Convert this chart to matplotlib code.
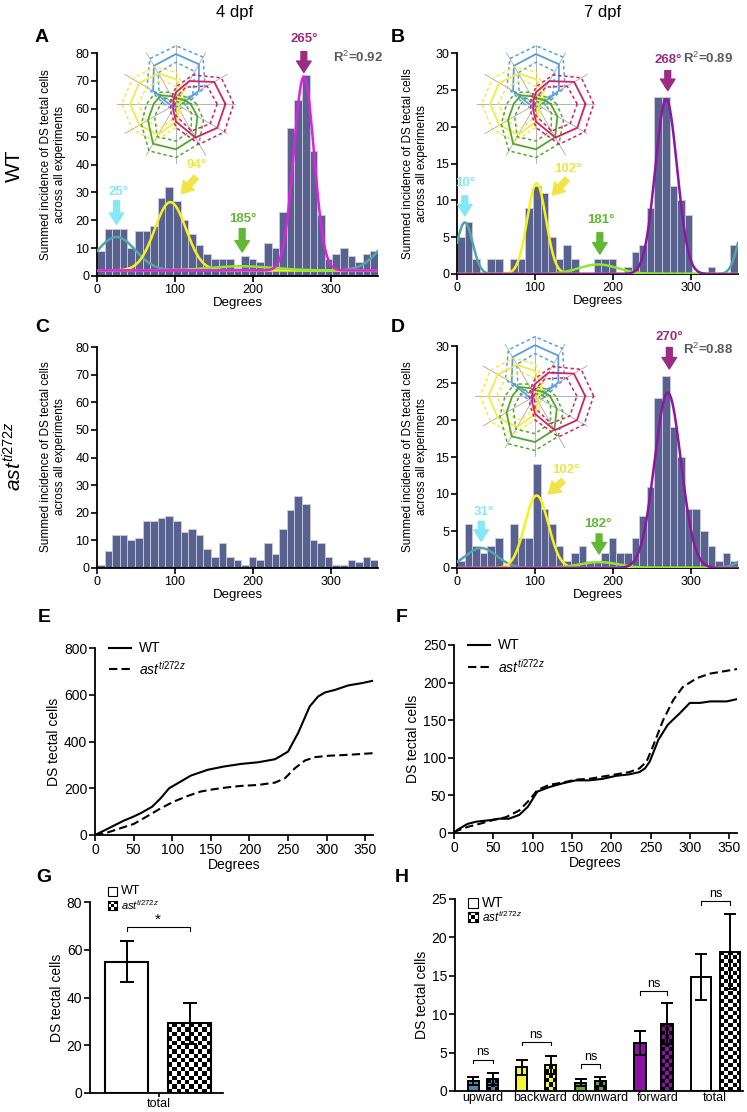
import numpy as np
import matplotlib
matplotlib.use('Agg')
import matplotlib.pyplot as plt
import matplotlib.colors as mcolors
from matplotlib.lines import Line2D
from matplotlib.patches import Rectangle

plt.rcParams['font.family'] = ['Liberation Sans', 'DejaVu Sans']
plt.rcParams['mathtext.fontset'] = 'custom'
plt.rcParams['mathtext.it'] = 'Liberation Sans:italic'
plt.rcParams['mathtext.rm'] = 'Liberation Sans'

# ---------------- DATA ----------------
n_bins = 37
hist_A = [9, 17, 17, 17, 10, 16, 16, 18, 28, 32, 27, 20, 15, 11, 8, 6, 6, 6, 3,
          7, 6, 5, 12, 10, 23, 53, 63, 72, 45, 22, 6, 8, 10, 7, 5, 8, 9]
hist_B = [5, 7, 2, 0, 2, 2, 0, 2, 2, 9, 12, 11, 5, 2, 4, 2, 0, 0, 2,
          2, 2, 0, 1, 3, 4, 9, 24, 24, 12, 10, 8, 0, 0, 1, 0, 0, 4]
hist_C = [1, 6, 12, 12, 10, 11, 17, 17, 18, 19, 17, 13, 14, 12, 7, 4, 9, 4, 3,
          1, 4, 3, 9, 5, 14, 21, 26, 23, 10, 9, 4, 1, 1, 3, 2, 4, 3]
hist_D = [1, 6, 3, 2, 3, 4, 0, 6, 4, 4, 14, 8, 6, 3, 1, 2, 3, 1, 1,
          2, 4, 2, 2, 4, 7, 11, 23, 26, 19, 15, 8, 8, 5, 3, 1, 2, 1]

# Gaussian fits: upward(teal), backward(yellow), downward(green), forward
fit_A_centers = [25, 94, 185, 265]
fit_A_amps = [12, 24.5, 1.5, 69.5]
fit_A_sigmas = [24, 20, 40, 13]
fit_A_base = 2
fit_A_r2 = "0.92"
fit_B_centers = [10, 102, 181, 268]
fit_B_amps = [7, 12.3, 1.3, 23.7]
fit_B_sigmas = [10, 12, 25, 14]
fit_B_base = 0
fit_B_r2 = "0.89"
fit_D_centers = [31, 102, 182, 270]
fit_D_amps = [2.7, 9.8, 0.8, 23.7]
fit_D_sigmas = [20, 15, 25, 17]
fit_D_base = 0
fit_D_r2 = "0.88"

# polar tuning insets (12 directions)
dir_angles = [0, 30, 60, 90, 120, 150, 180, 210, 240, 270, 300, 330]
up_mean = [0.10, 0.45, 0.78, 0.85, 0.75, 0.45, 0.12, 0.06, 0.05, 0.05, 0.05, 0.06]
up_sem = [0.08, 0.12, 0.14, 0.14, 0.14, 0.12, 0.08, 0.06, 0.05, 0.05, 0.05, 0.06]
back_mean = [0.05, 0.08, 0.20, 0.42, 0.60, 0.72, 0.78, 0.72, 0.60, 0.30, 0.10, 0.05]
back_sem = [0.05, 0.06, 0.10, 0.12, 0.13, 0.14, 0.14, 0.14, 0.13, 0.10, 0.07, 0.05]
down_mean = [0.25, 0.15, 0.10, 0.10, 0.15, 0.30, 0.38, 0.55, 0.78, 0.77, 0.65, 0.42]
down_sem = [0.10, 0.08, 0.06, 0.06, 0.08, 0.10, 0.12, 0.13, 0.14, 0.14, 0.13, 0.12]
fwd_mean = [0.84, 0.75, 0.45, 0.20, 0.08, 0.05, 0.05, 0.05, 0.10, 0.30, 0.66, 0.81]
fwd_sem = [0.14, 0.14, 0.12, 0.09, 0.06, 0.05, 0.05, 0.05, 0.07, 0.10, 0.13, 0.14]

# cumulative curves
E_wt_deg = [0, 13, 37, 48, 59, 74, 85, 96, 107, 124, 146, 167, 189, 211, 233, 241, 250,
            263, 278, 289, 298, 311, 328, 346, 360]
E_wt_val = [0, 21, 61, 76, 93, 121, 157, 200, 221, 254, 279, 293, 304, 311, 324, 339, 357,
            436, 550, 593, 610, 621, 640, 650, 660]
E_ast_deg = [0, 13, 33, 50, 67, 85, 102, 120, 137, 154, 172, 189, 211, 233, 246, 259, 272,
             285, 302, 328, 360]
E_ast_val = [0, 7, 29, 47, 79, 114, 143, 167, 186, 196, 204, 210, 214, 224, 243, 286, 319,
             333, 339, 343, 350]
F_wt_deg = [0, 4, 17, 28, 45, 57, 70, 83, 94, 106, 121, 138, 155, 172, 189, 206, 223, 236,
            243, 249, 260, 272, 287, 300, 313, 326, 347, 360]
F_wt_val = [0, 4, 12, 15, 17, 19, 19, 24, 35, 55, 61, 66, 70, 70, 72, 76, 78, 81,
            86, 95, 124, 144, 159, 173, 173, 175, 175, 178]
F_ast_deg = [0, 4, 17, 32, 49, 66, 83, 96, 106, 121, 138, 155, 172, 189, 206, 223, 236,
             245, 253, 266, 279, 291, 309, 326, 343, 360]
F_ast_val = [0, 3, 8, 12, 17, 21, 30, 44, 57, 64, 67, 71, 72, 75, 78, 81, 86,
             95, 115, 150, 177, 194, 206, 212, 215, 218]

# bar charts
G_groups = ['total']
G_wt_mean = [55.0]
G_wt_err = [8.7]
G_ast_mean = [29.3]
G_ast_err = [8.6]
H_groups = ['upward', 'backward', 'downward', 'forward', 'total']
H_wt_mean = [1.3, 3.1, 1.1, 6.25, 14.85]
H_wt_err = [0.5, 1.0, 0.42, 1.6, 2.95]
H_ast_mean = [1.55, 3.35, 1.25, 8.75, 18.15]
H_ast_err = [0.8, 1.2, 0.55, 2.65, 4.85]
H_sig = ['ns', 'ns', 'ns', 'ns', 'ns']

# ---------------- STYLE ----------------
W, H = 747, 1112
fig = plt.figure(figsize=(W / 100, H / 100), dpi=100)

BAR_C = '#59628f'
BAR_EDGE = '#c9cce0'
C_TEAL = '#52a6a6'
C_YEL = '#f7f21a'
C_GRN = '#8ee82a'
C_MAG_A = '#e020e0'
C_PUR = '#8f169f'
L_CYAN = '#86e8f4'
L_YEL = '#efe545'
L_GRN = '#62b833'
L_MAG = '#9a2d82'
POL_BLUE = '#5a9ee0'
POL_YEL = '#f5eb3c'
POL_GRN = '#52a82a'
POL_MAG = '#cf2268'
H_COLORS = ['#4a87a9', '#f5f53a', '#5aaa28', '#8a12a0', 'white']


def px_axes(l, t, r, b, **kw):
    return fig.add_axes([l / W, 1 - b / H, (r - l) / W, (b - t) / H], **kw)


def ftext(x, y, s, **kw):
    return fig.text(x / W, 1 - y / H, s, **kw)


def fline(x0, x1, y, **kw):
    fig.add_artist(Line2D([x0 / W, x1 / W], [1 - y / H, 1 - y / H],
                          transform=fig.transFigure, **kw))


def style_axes(ax, lab=9):
    for s in ['top', 'right']:
        ax.spines[s].set_visible(False)
    for s in ['left', 'bottom']:
        ax.spines[s].set_linewidth(1.3)
    ax.tick_params(direction='out', length=4, width=1.2, labelsize=lab, pad=1.5)


def circ_gauss(x, c, a, s, base):
    d = (x - c + 180) % 360 - 180
    return base + a * np.exp(-d ** 2 / (2 * s ** 2))


def polar_inset(cx, cy, r):
    ia = px_axes(cx - r, cy - r, cx + r, cy + r)
    ia.set_xlim(-1.02, 1.02)
    ia.set_ylim(-1.02, 1.02)
    ia.axis('off')
    th = np.deg2rad(dir_angles)
    for t in th:
        ia.plot([0, np.cos(t)], [0, np.sin(t)], color='#a8a8a8', lw=0.6, zorder=1)
    for mean, sem, col in [(up_mean, up_sem, POL_BLUE), (back_mean, back_sem, POL_YEL),
                           (down_mean, down_sem, POL_GRN), (fwd_mean, fwd_sem, POL_MAG)]:
        m = np.array(mean)
        s = np.array(sem)
        for rr, ls, lw in [(m, '-', 1.3), (np.clip(m - s, 0.02, None), (0, (2.2, 1.8)), 1.1),
                           (m + s, (0, (2.2, 1.8)), 1.1)]:
            xx = np.append(rr * np.cos(th), rr[0] * np.cos(th[0]))
            yy = np.append(rr * np.sin(th), rr[0] * np.sin(th[0]))
            ia.plot(xx, yy, color=col, lw=lw, ls=ls, zorder=2)


def arrow(ax, x0, y0, x1, y1, color):
    ax.annotate('', xy=(x1, y1), xytext=(x0, y0),
                arrowprops=dict(arrowstyle='simple,head_width=0.95,head_length=0.75,tail_width=0.38',
                                color=color, mutation_scale=11, shrinkA=0, shrinkB=0),
                annotation_clip=False)


def deg_label(ax, x, y, s, color):
    ax.text(x, y, s, color=color, fontsize=9.5, fontweight='bold', ha='center', va='center')


def hist_panel(box, counts, ymax, ystep):
    ax = px_axes(*box)
    w = 360.0 / n_bins
    edges = np.arange(n_bins) * w
    ax.bar(edges, counts, width=w, align='edge', color=BAR_C,
           edgecolor=BAR_EDGE, linewidth=0.6, zorder=1)
    ax.set_xlim(0, 360)
    ax.set_ylim(0, ymax)
    ax.set_xticks([0, 100, 200, 300])
    ax.set_yticks(np.arange(0, ymax + 0.1, ystep))
    style_axes(ax, 9)
    ax.set_xlabel('Degrees', fontsize=9.5, labelpad=1)
    return ax


def add_fits(ax, centers, amps, sigmas, base, last_col):
    x = np.linspace(0, 360, 1441)
    cols = [C_TEAL, C_YEL, C_GRN, last_col]
    for c, a, s, col in zip(centers, amps, sigmas, cols):
        ax.plot(x, circ_gauss(x, c, a, s, base), color=col, lw=1.8, zorder=3)


def checker_fill(ax, x0, w, h, color, cell=4.3):
    p0 = ax.transData.transform((x0, 0))
    p1 = ax.transData.transform((x0 + w, h))
    nx = max(1, int(round(abs(p1[0] - p0[0]) / cell)))
    ny = max(1, int(round(abs(p1[1] - p0[1]) / cell)))
    ii, jj = np.indices((ny, nx))
    rgba = np.zeros((ny, nx, 4))
    rgba[:] = mcolors.to_rgba(color)
    rgba[(ii + jj) % 2 == 0] = (0, 0, 0, 1)
    ax.imshow(rgba, extent=(x0, x0 + w, 0, h), origin='lower', interpolation='nearest',
              aspect='auto', zorder=2)


def checker_icon(l, t, size):
    ia = px_axes(l, t, l + size, t + size)
    ii, jj = np.indices((3, 3))
    img = np.where((ii + jj) % 2 == 0, 0.0, 1.0)
    ia.imshow(img, cmap='gray', vmin=0, vmax=1, interpolation='nearest', aspect='auto')
    ia.set_xticks([])
    ia.set_yticks([])
    for s in ia.spines.values():
        s.set_linewidth(0.8)


def white_icon(l, t, size):
    fig.add_artist(Rectangle((l / W, 1 - (t + size) / H), size / W, size / H,
                             transform=fig.transFigure, facecolor='white',
                             edgecolor='black', lw=0.8))


AST = r'$ast^{ti272z}$'

# ---------------- headers ----------------
ftext(235, 13, '4 dpf', fontsize=12, ha='center', va='center')
ftext(603, 13, '7 dpf', fontsize=12, ha='center', va='center')
ftext(14, 166, 'WT', fontsize=15, rotation=90, ha='center', va='center')
ftext(14, 456, AST, fontsize=15, rotation=90, ha='center', va='center')
for lab, x, y in [('A', 42, 38), ('B', 398, 38), ('C', 42, 328), ('D', 398, 328),
                  ('E', 44, 618), ('F', 402, 618), ('G', 44, 878), ('H', 402, 878)]:
    ftext(x, y, lab, fontsize=14, fontweight='bold', ha='center', va='center')

YL = 'Summed incidence of DS tectal cells\nacross all experiments'

# ---------------- A ----------------
axA = hist_panel((97, 53, 378, 276), hist_A, 80, 10)
add_fits(axA, fit_A_centers, fit_A_amps, fit_A_sigmas, fit_A_base, C_MAG_A)
ftext(53, 165, YL, fontsize=8.5, rotation=90, ha='center', va='center', multialignment='center')
deg_label(axA, 27, 30, '25°', L_CYAN)
arrow(axA, 25, 27, 25, 18.5, L_CYAN)
deg_label(axA, 128, 40, '94°', L_YEL)
arrow(axA, 127, 35.5, 108, 29.5, L_YEL)
deg_label(axA, 187, 20.5, '185°', L_GRN)
arrow(axA, 186, 17, 186, 8.6, L_GRN)
deg_label(axA, 265, 85, '265°', L_MAG)
arrow(axA, 265, 80.5, 265, 73, L_MAG)
axA.text(335, 78.5, r'R$^2$=' + fit_A_r2, color='#5a5a5a', fontsize=9.5, fontweight='bold',
         ha='center', va='center')
polar_inset(176, 104, 60)

# ---------------- B ----------------
axB = hist_panel((457, 53, 738, 274), hist_B, 30, 5)
add_fits(axB, fit_B_centers, fit_B_amps, fit_B_sigmas, fit_B_base, C_PUR)
ftext(415, 164, YL, fontsize=8.5, rotation=90, ha='center', va='center', multialignment='center')
deg_label(axB, 10, 12.3, '10°', L_CYAN)
arrow(axB, 10, 10.6, 10, 7.9, L_CYAN)
deg_label(axB, 142, 14.3, '102°', L_YEL)
arrow(axB, 141, 12.9, 122, 10.7, L_YEL)
deg_label(axB, 184, 7.3, '181°', L_GRN)
arrow(axB, 183, 5.6, 183, 2.7, L_GRN)
deg_label(axB, 270, 29.0, '268°', L_MAG)
arrow(axB, 270, 27.6, 270, 24.9, L_MAG)
axB.text(322, 29.2, r'R$^2$=' + fit_B_r2, color='#5a5a5a', fontsize=9.5, fontweight='bold',
         ha='center', va='center')
polar_inset(536, 104, 60)

# ---------------- C ----------------
axC = hist_panel((97, 347, 378, 568), hist_C, 80, 10)
ftext(53, 457, YL, fontsize=8.5, rotation=90, ha='center', va='center', multialignment='center')

# ---------------- D ----------------
axD = hist_panel((457, 346, 738, 568), hist_D, 30, 5)
add_fits(axD, fit_D_centers, fit_D_amps, fit_D_sigmas, fit_D_base, C_PUR)
ftext(415, 457, YL, fontsize=8.5, rotation=90, ha='center', va='center', multialignment='center')
deg_label(axD, 34, 7.6, '31°', L_CYAN)
arrow(axD, 31, 6.3, 31, 3.6, L_CYAN)
deg_label(axD, 139, 13.3, '102°', L_YEL)
arrow(axD, 136, 11.8, 117, 10.0, L_YEL)
deg_label(axD, 181, 6.0, '182°', L_GRN)
arrow(axD, 182, 4.6, 182, 1.9, L_GRN)
deg_label(axD, 272, 31.2, '270°', L_MAG)
arrow(axD, 272, 29.8, 272, 26.9, L_MAG)
axD.text(322, 29.5, r'R$^2$=' + fit_D_r2, color='#5a5a5a', fontsize=9.5, fontweight='bold',
         ha='center', va='center')
polar_inset(535, 396, 61)

# ---------------- E ----------------
axE = px_axes(95, 648, 373, 835)
axE.plot(E_wt_deg, E_wt_val, color='black', lw=1.5)
axE.plot(E_ast_deg, E_ast_val, color='black', lw=1.5, ls=(0, (4, 2)))
axE.set_xlim(0, 360)
axE.set_ylim(0, 800)
axE.set_xticks(np.arange(0, 351, 50))
axE.set_yticks(np.arange(0, 801, 200))
style_axes(axE, 10)
axE.set_xlabel('Degrees', fontsize=10, labelpad=1)
axE.set_ylabel('DS tectal cells', fontsize=10, labelpad=2)
fline(109, 131, 648, color='black', lw=1.5)
ftext(139, 648, 'WT', fontsize=10, va='center')
fline(109, 131, 669, color='black', lw=1.5, ls=(0, (4, 2)))
ftext(139, 669, AST, fontsize=10, va='center')

# ---------------- F ----------------
axF = px_axes(454, 645, 737, 833)
axF.plot(F_wt_deg, F_wt_val, color='black', lw=1.5)
axF.plot(F_ast_deg, F_ast_val, color='black', lw=1.5, ls=(0, (4, 2)))
axF.set_xlim(0, 360)
axF.set_ylim(0, 250)
axF.set_xticks(np.arange(0, 351, 50))
axF.set_yticks(np.arange(0, 251, 50))
style_axes(axF, 10)
axF.set_xlabel('Degrees', fontsize=10, labelpad=1)
axF.set_ylabel('DS tectal cells', fontsize=10, labelpad=2)
fline(468, 490, 645, color='black', lw=1.5)
ftext(498, 645, 'WT', fontsize=10, va='center')
fline(468, 490, 667, color='black', lw=1.5, ls=(0, (4, 2)))
ftext(498, 667, AST, fontsize=10, va='center')

# ---------------- G ----------------
axG = px_axes(90, 902, 223, 1093)
axG.set_xlim(0, 10)
axG.set_ylim(0, 80)
style_axes(axG, 10)
g_wt_x, g_ast_x, g_w = 2.75, 7.5, 3.2
axG.bar([g_wt_x], G_wt_mean, width=g_w, color='white', edgecolor='black', lw=1.5, zorder=3)
checker_fill(axG, g_ast_x - g_w / 2, g_w, G_ast_mean[0], 'white', cell=4.4)
axG.add_patch(Rectangle((g_ast_x - g_w / 2, 0), g_w, G_ast_mean[0], fill=False,
                        edgecolor='black', lw=1.5, zorder=3))
axG.errorbar([g_wt_x], G_wt_mean, yerr=G_wt_err, fmt='none', ecolor='black',
             elinewidth=1.4, capsize=5, capthick=1.4, zorder=4)
axG.errorbar([g_ast_x], G_ast_mean, yerr=G_ast_err, fmt='none', ecolor='black',
             elinewidth=1.4, capsize=5, capthick=1.4, zorder=4)
axG.plot([g_wt_x, g_wt_x, g_ast_x, g_ast_x], [67.8, 69.4, 69.4, 67.8], color='black', lw=0.8)
axG.text((g_wt_x + g_ast_x) / 2, 69.8, '*', ha='center', va='bottom', fontsize=11)
axG.set_xlim(0, 10)
axG.set_ylim(0, 80)
axG.set_xticks([5.2])
axG.set_xticklabels(G_groups)
axG.tick_params(axis='x', labelsize=9, pad=0.5, length=3)
axG.set_yticks(np.arange(0, 81, 20))
axG.set_ylabel('DS tectal cells', fontsize=10, labelpad=2)
white_icon(108, 887, 9)
ftext(121, 891, 'WT', fontsize=9, va='center')
checker_icon(108, 901, 9)
ftext(121, 905, AST, fontsize=8, va='center')

# ---------------- H ----------------
axH = px_axes(455, 899, 743, 1091)
axH.set_xlim(0, 100)
axH.set_ylim(0, 25)
style_axes(axH, 10)
h_wt_x = [6.4, 23.1, 43.7, 64.2, 85.4]
h_ast_x = [13.1, 33.2, 50.5, 73.6, 95.4]
h_w = [3.9, 3.9, 3.9, 3.9, 7.0]
h_lab_x = [9.7, 29.5, 50.5, 70.5, 90.2]
h_sig_y = [4.1, 6.4, 3.5, 13.0, 24.7]
for i in range(len(H_groups)):
    axH.bar([h_wt_x[i]], [H_wt_mean[i]], width=h_w[i], color=H_COLORS[i],
            edgecolor='black', lw=1.4, zorder=3)
    checker_fill(axH, h_ast_x[i] - h_w[i] / 2, h_w[i], H_ast_mean[i], H_COLORS[i], cell=4.0)
    axH.add_patch(Rectangle((h_ast_x[i] - h_w[i] / 2, 0), h_w[i], H_ast_mean[i], fill=False,
                            edgecolor='black', lw=1.4, zorder=3))
    axH.errorbar([h_wt_x[i]], [H_wt_mean[i]], yerr=[H_wt_err[i]], fmt='none', ecolor='black',
                 elinewidth=1.4, capsize=4, capthick=1.4, zorder=4)
    axH.errorbar([h_ast_x[i]], [H_ast_mean[i]], yerr=[H_ast_err[i]], fmt='none', ecolor='black',
                 elinewidth=1.4, capsize=4, capthick=1.4, zorder=4)
    y = h_sig_y[i]
    axH.plot([h_wt_x[i], h_wt_x[i], h_ast_x[i], h_ast_x[i]], [y - 0.45, y, y, y - 0.45],
             color='black', lw=0.8)
    axH.text((h_wt_x[i] + h_ast_x[i]) / 2, y + 0.15, H_sig[i], ha='center', va='bottom', fontsize=9)
axH.set_xlim(0, 100)
axH.set_ylim(0, 25)
axH.set_xticks(h_lab_x)
axH.set_xticklabels(H_groups, fontsize=9)
axH.tick_params(axis='x', length=0, pad=1)
axH.set_yticks(np.arange(0, 26, 5))
axH.set_ylabel('DS tectal cells', fontsize=10, labelpad=2)
white_icon(468, 898, 10)
ftext(482, 903, 'WT', fontsize=10, va='center')
checker_icon(468, 912, 10)
ftext(482, 917, AST, fontsize=8.5, va='center')

fig.savefig('out.png', dpi=100)
